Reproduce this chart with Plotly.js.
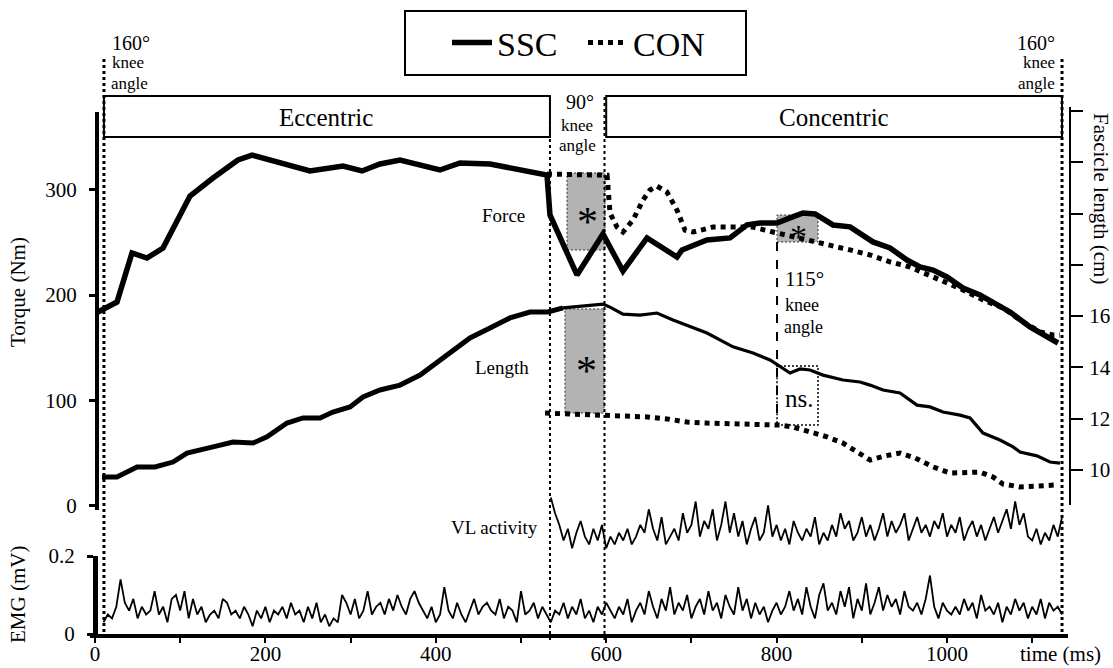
<!DOCTYPE html>
<html>
<head>
<meta charset="utf-8">
<script src="https://cdn.plot.ly/plotly-3.0.1.min.js"></script>
<style>html,body{margin:0;padding:0;background:#fff;} #chart{width:1113px;height:668px;}</style>
</head>
<body>
<div id="chart"></div>
<script>
// ---------- DATA ----------
// SSC torque (Nm) vs time (ms)
const sscForceT = [3.5,25.8,43.4,61.0,79.8,111.5,138.5,167.8,184.3,252.3,291.1,313.4,334.5,358.0,404.9,428.4,463.6,530.5,534.0,551.6,565.7,596.2,619.7,647.9,683.1,689.0,718.3,745.3,765.3,780.5,800.5,815.7,831.0,845.1,866.2,886.2,901.4,913.1,933.1,953.1,968.3,983.6,1000.0,1018.8,1038.7,1054.0,1074.0,1097.4,1117.4,1130.3];
const sscForceV = [184.0,193.4,240.0,235.2,244.7,294.1,311.2,328.3,333.0,317.9,322.6,317.9,324.5,328.3,318.8,325.5,324.5,314.1,276.1,242.9,219.1,258.0,222.9,254.3,236.2,242.9,252.4,254.3,266.7,268.5,268.5,273.3,278.0,277.0,266.6,264.8,257.2,250.5,244.7,233.3,226.7,223.8,217.2,206.7,200.1,193.4,184.0,169.7,160.2,154.5];
// CON torque (Nm)
const conForceT = [530.5,601.0,604.5,612.7,619.7,631.5,643.2,651.4,659.6,671.4,683.1,692.5,701.9,725.4,748.8,772.3,795.8,800.5,847.4,866.2,886.2,909.6,933.1,956.6,971.8,991.8,1018.8,1042.3,1065.7,1089.2,1109.2,1124.4,1132.6];
const conForceV = [314.9,313.9,277.9,264.6,259.9,271.3,290.3,299.8,303.5,297.8,280.7,261.7,259.9,264.6,264.6,264.6,259.9,259.0,250.4,247.6,242.9,238.1,231.5,226.7,221.0,214.4,204.9,195.4,187.8,174.5,165.0,162.2,162.2];
// SSC fascicle length (cm)
const sscLenT = [8.2,25.8,49.3,70.4,91.5,108.0,138.5,162.0,185.4,201.9,225.4,244.1,264.1,279.3,299.3,314.6,334.5,358.0,381.5,404.9,428.4,440.1,463.6,487.1,510.6,531.7,549.3,589.2,596.2,604.5,619.7,639.7,659.6,678.4,698.4,718.3,748.8,772.3,792.3,804.0,815.7,827.5,839.2,854.5,877.9,897.9,909.6,924.9,944.8,964.8,980.0,995.3,1015.3,1027.0,1042.3,1062.2,1077.5,1085.7,1105.6,1120.9,1132.6];
const sscLenV = [9.73,9.73,10.12,10.12,10.31,10.66,10.90,11.09,11.05,11.29,11.83,12.03,12.03,12.26,12.46,12.85,13.12,13.31,13.70,14.29,14.87,15.15,15.54,15.93,16.16,16.16,16.32,16.43,16.47,16.35,16.08,16.04,16.12,15.85,15.58,15.34,14.80,14.56,14.29,14.05,13.78,13.94,13.90,13.70,13.51,13.43,13.31,13.12,13.00,12.53,12.46,12.26,12.14,12.03,11.44,11.17,10.90,10.70,10.55,10.31,10.27];
// CON fascicle length (cm)
const conLenT = [528.2,601.0,624.4,647.9,671.4,694.8,718.3,748.8,780.5,804.0,819.2,839.2,859.2,877.9,895.5,909.6,927.2,944.8,962.4,983.6,1003.5,1023.5,1038.7,1054.0,1065.7,1085.7,1130.3];
const conLenV = [12.22,12.14,12.11,12.07,11.99,11.87,11.83,11.79,11.75,11.75,11.68,11.48,11.29,11.05,10.70,10.39,10.55,10.66,10.47,10.12,9.88,9.88,9.92,9.73,9.45,9.34,9.42];
// EMG (mV), SSC trial, sampled every 5 ms from 10 ms
const emgSscStart = 10, emgStep = 5;
const emgSscV = [
0.03,0.05,0.04,0.07,0.14,0.08,0.06,0.09,0.04,0.07,0.05,0.06,0.11,0.05,0.07,0.03,0.09,0.10,0.06,0.11,
0.04,0.09,0.05,0.07,0.03,0.05,0.06,0.04,0.09,0.08,0.05,0.06,0.04,0.07,0.05,0.02,0.06,0.04,0.07,0.03,
0.06,0.05,0.07,0.04,0.08,0.05,0.06,0.03,0.07,0.04,0.08,0.03,0.05,0.02,0.04,0.03,0.10,0.08,0.05,0.09,
0.04,0.06,0.11,0.05,0.07,0.08,0.05,0.09,0.06,0.10,0.07,0.05,0.09,0.11,0.08,0.06,0.04,0.07,0.03,0.05,
0.12,0.06,0.04,0.08,0.05,0.03,0.06,0.09,0.05,0.07,0.08,0.06,0.05,0.09,0.04,0.07,0.06,0.03,0.11,0.05,
0.06,0.08,0.04,0.07,0.05,0.03,0.06,0.05,0.08,0.04,0.07,0.05,0.09,0.04,0.06,0.03,0.07,0.05,0.08,0.06,
0.04,0.07,0.05,0.09,0.03,0.06,0.08,0.05,0.11,0.07,0.04,0.09,0.06,0.12,0.05,0.08,0.06,0.10,0.04,0.07,
0.09,0.05,0.11,0.06,0.08,0.04,0.10,0.07,0.05,0.12,0.06,0.09,0.04,0.08,0.05,0.07,0.03,0.06,0.08,0.05,
0.07,0.11,0.06,0.09,0.05,0.12,0.07,0.04,0.10,0.13,0.06,0.08,0.05,0.11,0.07,0.12,0.04,0.09,0.06,0.13,
0.05,0.08,0.12,0.06,0.10,0.07,0.09,0.05,0.11,0.07,0.06,0.08,0.05,0.09,0.15,0.07,0.04,0.08,0.06,0.05,
0.07,0.05,0.09,0.06,0.08,0.04,0.10,0.06,0.07,0.05,0.08,0.03,0.07,0.05,0.09,0.06,0.08,0.04,0.07,0.05,
0.09,0.04,0.08,0.06,0.07,0.05];
// EMG (mV), CON trial ("VL activity"), every 5 ms from 535 ms
const emgConStart = 535;
const emgConV = [
0.16,0.12,0.09,0.05,0.08,0.03,0.07,0.10,0.06,0.04,0.08,0.05,0.09,0.03,0.06,0.04,0.07,0.05,0.08,0.04,
0.06,0.09,0.07,0.13,0.08,0.05,0.11,0.04,0.06,0.08,0.05,0.12,0.07,0.09,0.15,0.06,0.10,0.08,0.13,0.05,
0.09,0.15,0.07,0.12,0.06,0.10,0.04,0.08,0.11,0.05,0.07,0.14,0.06,0.09,0.05,0.08,0.04,0.10,0.07,0.05,
0.08,0.06,0.11,0.04,0.07,0.05,0.09,0.06,0.12,0.08,0.10,0.05,0.07,0.11,0.06,0.09,0.05,0.08,0.12,0.06,
0.10,0.07,0.09,0.12,0.05,0.08,0.11,0.07,0.09,0.06,0.10,0.08,0.12,0.06,0.09,0.07,0.11,0.05,0.08,0.10,
0.06,0.09,0.05,0.08,0.11,0.07,0.10,0.13,0.08,0.15,0.09,0.12,0.06,0.05,0.08,0.04,0.07,0.05,0.09,0.06,
0.11];
// Phase markers (ms) and axis ticks
const phaseTimes = {start:10.5, ninetyStart:534, ninetyEnd:598, end:1135};
const xTickVals = [0,100,200,300,400,500,600,700,800,900,1000,1100];
const xTickText = ['0','','200','','400','','600','','800','','1000',''];
const torqueTicks = [0,100,200,300];
const lenTickVals = [10,12,14,16,18,20,22,24];
const lenTickText = ['10','12','14','16','','','',''];
const emgTicks = [0,0.2];
const emgTickText = ['0','0.2'];
const eccentricEndIndex = 26; // last SSC length sample of the eccentric phase

// ---------- helpers ----------
const W = 1113, H = 668;
const fx = x => x / W;
const fy = y => 1 - y / H;
const FONT = '"Liberation Serif", "Times New Roman", Times, serif';
const emgSscT = emgSscV.map((_, i) => emgSscStart + i * emgStep);
const emgConT = emgConV.map((_, i) => emgConStart + i * emgStep);

const traces = [
  {x: sscForceT, y: sscForceV, xaxis:'x', yaxis:'y', mode:'lines', name:'SSC', legendgroup:'ssc',
   line:{color:'#000', width:5.5, shape:'linear'}},
  {x: conForceT, y: conForceV, xaxis:'x', yaxis:'y', mode:'lines', name:'CON', legendgroup:'con',
   line:{color:'#000', width:5, dash:'dot'}},
  {x: sscLenT.slice(0, eccentricEndIndex + 1), y: sscLenV.slice(0, eccentricEndIndex + 1), xaxis:'x', yaxis:'y2', mode:'lines', showlegend:false,
   line:{color:'#000', width:5}},
  {x: sscLenT.slice(eccentricEndIndex), y: sscLenV.slice(eccentricEndIndex), xaxis:'x', yaxis:'y2', mode:'lines', showlegend:false,
   line:{color:'#000', width:3.2}},
  {x: conLenT, y: conLenV, xaxis:'x', yaxis:'y2', mode:'lines', showlegend:false,
   line:{color:'#000', width:5, dash:'dot'}},
  {x: emgSscT, y: emgSscV, xaxis:'x', yaxis:'y3', mode:'lines', showlegend:false,
   line:{color:'#000', width:1.8}},
  {x: emgConT, y: emgConV, xaxis:'x', yaxis:'y4', mode:'lines', showlegend:false,
   line:{color:'#000', width:1.8}}
];

const shapes = [
  // legend frame
  {type:'rect', xref:'paper', yref:'paper', x0:fx(405), x1:fx(746), y0:fy(75), y1:fy(11), line:{color:'#000', width:2}},
  // phase boxes
  {type:'rect', xref:'x', yref:'paper', x0:phaseTimes.start, x1:phaseTimes.ninetyStart, y0:fy(137), y1:fy(96), line:{color:'#000', width:2}},
  {type:'rect', xref:'x', yref:'paper', x0:phaseTimes.ninetyEnd+2, x1:phaseTimes.end, y0:fy(137), y1:fy(96), line:{color:'#000', width:2}},
  // grey significance boxes
  {type:'rect', xref:'x', yref:'y', x0:554, x1:598.6, y0:242.8, y1:316, fillcolor:'#b3b3b3', line:{color:'#333', width:1, dash:'2px,2px'}, layer:'below'},
  {type:'rect', xref:'x', yref:'y2', x0:551.6, x1:597.4, y0:12.22, y1:16.28, fillcolor:'#b3b3b3', line:{color:'#333', width:1, dash:'2px,2px'}, layer:'below'},
  {type:'rect', xref:'x', yref:'y', x0:800.5, x1:848.6, y0:250.4, y1:276.1, fillcolor:'#b3b3b3', line:{color:'#333', width:1, dash:'2px,2px'}, layer:'below'},
  // ns box
  {type:'rect', xref:'x', yref:'y2', x0:800.5, x1:848.6, y0:11.75, y1:14.05, line:{color:'#000', width:1.5, dash:'2px,2px'}},
  {type:'line', xref:'x', yref:'paper', x0:800.5, x1:800.5, y0:fy(242), y1:fy(425), line:{color:'#000', width:2, dash:'dash'}},
  // vertical phase lines
  {type:'line', xref:'x', yref:'paper', x0:phaseTimes.start, x1:phaseTimes.start, y0:fy(59), y1:fy(640), line:{color:'#000', width:3, dash:'dot'}},
  {type:'line', xref:'x', yref:'paper', x0:phaseTimes.ninetyStart, x1:phaseTimes.ninetyStart, y0:fy(97), y1:fy(640), line:{color:'#000', width:2, dash:'dot'}},
  {type:'line', xref:'x', yref:'paper', x0:phaseTimes.ninetyEnd, x1:phaseTimes.ninetyEnd, y0:fy(97), y1:fy(640), line:{color:'#000', width:2, dash:'dot'}},
  {type:'line', xref:'x', yref:'paper', x0:phaseTimes.end, x1:phaseTimes.end, y0:fy(59), y1:fy(640), line:{color:'#000', width:3, dash:'dot'}}
];

function ann(text, x, y, size, xanchor, extra) {
  return Object.assign({text, xref:'paper', yref:'paper', x:fx(x), y:fy(y), xanchor:xanchor||'center', yanchor:'middle',
    showarrow:false, font:{family:FONT, size:size, color:'#000'}}, extra||{});
}
const annotations = [
  ann('160°', 110, 43, 20, 'left'), ann('knee', 110, 63, 17, 'left'), ann('angle', 109, 83, 17, 'left'),
  ann('160°', 1057, 43, 20, 'right'), ann('knee', 1057, 63, 17, 'right'), ann('angle', 1057, 83, 17, 'right'),
  ann('90°', 580, 102, 20), ann('knee', 577, 125, 17), ann('angle', 577, 145, 17),
  ann('115°', 783, 279, 21, 'left'), ann('knee', 783, 305, 18, 'left'), ann('angle', 782, 327, 18, 'left'),
  ann('Eccentric', 326, 117, 25), ann('Concentric', 834, 117, 25),
  ann('Force', 527, 215, 19, 'right'), ann('Length', 531, 367, 19, 'right'), ann('VL activity', 540, 527, 19, 'right'),
  ann('ns.', 799, 398, 25),
  ann('*', 587, 222, 42), ann('*', 586, 371, 42), ann('*', 798, 236, 34),
  ann('Torque (Nm)', 18, 292, 21, 'center', {textangle:-90}),
  ann('EMG (mV)', 18, 595, 21, 'center', {textangle:-90}),
  ann('Fascicle length (cm)', 1101, 198, 21, 'center', {textangle:90}),
  ann('time (ms)', 1060, 654, 21)
];

const tickFont = {family:FONT, size:21, color:'#000'};
const layout = {
  width: W, height: H,
  margin: {l:0, r:0, t:0, b:0, pad:0},
  paper_bgcolor:'#fff', plot_bgcolor:'rgba(0,0,0,0)',
  font: {family:FONT, color:'#000'},
  showlegend: true,
  legend: {orientation:'h', x:fx(447), y:fy(43), xanchor:'left', yanchor:'middle',
    entrywidth:81, entrywidthmode:'pixels', itemwidth:40,
    font:{family:FONT, size:34, color:'#000'}, bgcolor:'rgba(0,0,0,0)', borderwidth:0},
  xaxis: {domain:[fx(90), fx(1068)], range:[(90-95)/0.852, (1068-95)/0.852], anchor:'y3',
    showline:true, linecolor:'#000', linewidth:4, ticks:'outside', ticklen:5, tickwidth:2, tickcolor:'#000',
    tickvals:xTickVals, ticktext:xTickText, tickfont:tickFont, ticklabelstandoff:-7, showgrid:false, zeroline:false},
  yaxis: {domain:[fy(510), fy(112)], range:[(505.7-510)/1.053, (505.7-112)/1.053], anchor:'free', position:fx(97), side:'left',
    showline:true, linecolor:'#000', linewidth:4, ticks:'outside', ticklen:6, tickwidth:3, tickcolor:'#000',
    tickvals:torqueTicks, tickfont:tickFont, ticklabelstandoff:8, showgrid:false, zeroline:false},
  yaxis2: {domain:[fy(505), fy(107)], range:[10+(470-505)/25.65, 10+(470-107)/25.65], anchor:'free', position:fx(1070), side:'right',
    showline:true, linecolor:'#000', linewidth:2, ticks:'outside', ticklen:12, tickwidth:2, tickcolor:'#000',
    tickvals:lenTickVals, ticktext:lenTickText, tickfont:tickFont, ticklabelstandoff:2, showgrid:false, zeroline:false},
  yaxis3: {domain:[fy(634), fy(556)], range:[0, 0.2], anchor:'free', position:fx(95), side:'left',
    showline:true, linecolor:'#000', linewidth:5, ticks:'outside', ticklen:6, tickwidth:3, tickcolor:'#000',
    tickvals:emgTicks, ticktext:emgTickText, tickfont:tickFont, ticklabelstandoff:8, showgrid:false, zeroline:false},
  yaxis4: {domain:[fy(560), fy(482)], range:[0, 0.2], anchor:'x', visible:false, showgrid:false, zeroline:false},
  shapes, annotations
};

Plotly.newPlot('chart', traces, layout, {displayModeBar:false, staticPlot:true});
</script>
</body>
</html>
